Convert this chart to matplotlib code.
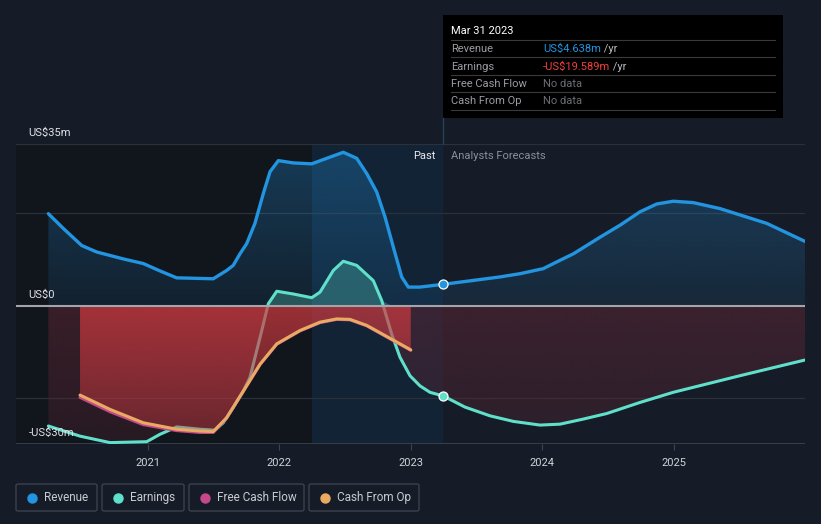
import numpy as np
import matplotlib
matplotlib.use("Agg")
import matplotlib.pyplot as plt
import matplotlib.colors as mcolors
from matplotlib.patches import Rectangle, FancyBboxPatch
from matplotlib.lines import Line2D

plt.rcParams['font.family'] = ['Roboto', 'DejaVu Sans']

# ---- data (US$ m, x in fractional years) ----
rev_x = [2020.246, 2020.360, 2020.500, 2020.614, 2020.816, 2020.968, 2021.095, 2021.222,
         2021.500, 2021.602, 2021.652, 2021.703, 2021.754, 2021.817, 2021.881, 2021.932,
         2021.995, 2022.109, 2022.249, 2022.363, 2022.489, 2022.591, 2022.667, 2022.743,
         2022.806, 2022.869, 2022.933, 2022.983, 2023.072, 2023.250,
         2023.681, 2023.833, 2024.010, 2024.137, 2024.238, 2024.441, 2024.593, 2024.745,
         2024.872, 2024.998, 2025.150, 2025.354, 2025.709, 2026.0]
rev_y = [19.9, 16.7, 13.0, 11.6, 10.1, 9.1, 7.5, 6.0,
         5.8, 7.6, 8.7, 11.2, 13.4, 17.8, 24.3, 29.0,
         31.4, 30.9, 30.7, 31.9, 33.2, 31.9, 28.6, 24.6,
         19.2, 12.7, 6.2, 4.0, 4.0, 4.6,
         6.2, 6.9, 8.0, 9.8, 11.2, 14.8, 17.4, 20.3,
         22.0, 22.6, 22.3, 21.0, 17.8, 13.9]

earn_x = [2020.246, 2020.487, 2020.715, 2020.994, 2021.095, 2021.222, 2021.399, 2021.513,
          2021.576, 2021.652, 2021.729, 2021.779, 2021.856, 2021.919, 2021.983, 2022.109,
          2022.249, 2022.312, 2022.413, 2022.489, 2022.591, 2022.717, 2022.781, 2022.857,
          2022.920, 2022.996, 2023.072, 2023.148, 2023.250,
          2023.414, 2023.605, 2023.782, 2023.985, 2024.137, 2024.314, 2024.492, 2024.745,
          2024.998, 2025.506, 2026.0]
earn_y = [-26.1, -28.3, -29.7, -29.5, -27.9, -26.3, -26.8, -27.0,
          -25.4, -22.1, -18.5, -15.6, -6.9, 0.4, 3.1, 2.5,
          1.7, 2.9, 7.6, 9.6, 8.7, 5.4, 1.1, -6.2,
          -11.2, -15.2, -17.4, -18.8, -19.6,
          -22.0, -23.9, -25.1, -25.9, -25.7, -24.6, -23.4, -21.0,
          -18.8, -15.2, -11.8]

cfo_x = [2020.487, 2020.715, 2020.968, 2021.222, 2021.399, 2021.500, 2021.602, 2021.729,
         2021.856, 2021.983, 2022.160, 2022.312, 2022.439, 2022.540, 2022.667, 2022.819,
         2023.002]
cfo_y = [-19.4, -22.5, -25.4, -26.8, -27.2, -27.3, -24.3, -18.5,
         -12.7, -8.3, -5.4, -3.6, -2.9, -3.0, -4.3, -6.7,
         -9.6]
fcf_y = [-19.9, -23.0, -25.8, -27.1, -27.5, -27.5, -24.4, -18.6,
         -12.8, -8.4, -5.5, -3.7, -3.0, -3.1, -4.4, -6.8,
         -9.7]

yticks = [35, 0, -30]
ytick_labels = ['US$35m', 'US$0', '-US$30m']
xticks = [2021, 2022, 2023, 2024, 2025]

C_REV = '#2394df'
C_EARN = '#5fe0cb'
C_FCF = '#c4488a'
C_CFO = '#e9ab62'
BG = '#161c27'


def grad_fill(ax, x, y_line, y_base, color, a_line, a_base, z):
    x = np.asarray(x)
    y_line = np.asarray(y_line)
    poly = ax.fill_between(x, y_line, y_base, color='none', lw=0)
    path = poly.get_paths()[0]
    lo = min(y_line.min(), y_base)
    hi = max(y_line.max(), y_base)
    rgb = mcolors.to_rgb(color)
    img = np.zeros((256, 1, 4))
    img[..., :3] = rgb
    if y_line.mean() >= y_base:
        img[:, 0, 3] = np.linspace(a_line, a_base, 256)
    else:
        img[:, 0, 3] = np.linspace(a_base, a_line, 256)
    im = ax.imshow(img, extent=[x.min(), x.max(), lo, hi], aspect='auto',
                   origin='upper', zorder=z, interpolation='bilinear')
    im.set_clip_path(path, transform=ax.transData)


fig = plt.figure(figsize=(8.21, 5.24), dpi=100)
fig.patch.set_facecolor(BG)
ax = fig.add_axes([16 / 821, 80 / 524, 789 / 821, 300 / 524])
ax.set_facecolor(BG)

# past / highlight backgrounds
ax.axvspan(2020.0, 2023.25, color='#11151c', zorder=0, lw=0)
ax.axvspan(2022.25, 2023.25, color='#14304a', alpha=0.55, zorder=0.5, lw=0)

for g in [35, 20, -20]:
    ax.axhline(g, color='#2b313b', lw=0.9, zorder=1)
ax.axhline(-30, color='#3e4450', lw=1.2, zorder=1)

# fills
grad_fill(ax, rev_x, rev_y, 0, C_REV, 0.30, 0.10, 2)
ex = np.array(earn_x)
ey = np.array(earn_y)
grad_fill(ax, ex, np.minimum(ey, 0), 0, '#5a2634', 0.30, 0.55, 2)
ax.fill_between(ex, np.maximum(ey, 0), 0, color=C_EARN, alpha=0.28, lw=0, zorder=2)

# lines
kw = dict(solid_capstyle='round', solid_joinstyle='round')
ax.plot(earn_x, earn_y, color=C_EARN, lw=2.2, zorder=3, **kw)
grad_fill(ax, cfo_x, cfo_y, 0, '#cf3a40', 0.40, 0.72, 4)
ax.plot(cfo_x, fcf_y, color=C_FCF, lw=2.2, zorder=5, **kw)
ax.plot(cfo_x, cfo_y, color=C_CFO, lw=2.2, zorder=5.5, **kw)
ax.plot(rev_x, rev_y, color=C_REV, lw=2.4, zorder=5, **kw)
ax.axhline(0, color='#a3a5ab', lw=1.5, zorder=4.5)

ax.plot([2023.25], [4.6], 'o', ms=6.5, color=C_REV, mec='white', mew=0.9, zorder=7)
ax.plot([2023.25], [-19.6], 'o', ms=6.5, color=C_EARN, mec='white', mew=0.9, zorder=7)

ax.set_xlim(2020.0, 2026.0)
ax.set_ylim(-30, 35)
for s in ax.spines.values():
    s.set_visible(False)
ax.set_yticks([])
ax.set_xticks(xticks)
ax.set_xticklabels([str(t) for t in xticks], color='#d0d3d8', fontsize=8)
ax.tick_params(axis='x', length=4, color='#3e4450', pad=6)

for v, lab in zip(yticks, ytick_labels):
    ax.annotate(lab, xy=(0, v), xycoords=('axes fraction', 'data'),
                xytext=(9, 4), textcoords='offset points', fontsize=8,
                color='#e0e2e6', va='bottom', ha='left', zorder=8)

ax.text(2023.25 - 0.06, 33.5, 'Past', color='#e8eaee', fontsize=8, ha='right', va='top', zorder=8)
ax.text(2023.25 + 0.06, 33.5, 'Analysts Forecasts', color='#8a8f99', fontsize=8,
        ha='left', va='top', zorder=8)

# vertical line from tooltip to chart
fig.add_artist(Line2D([443 / 821, 443 / 821], [1 - 118 / 524, 1 - 144 / 524],
                      color='#24405a', lw=1))

# tooltip
W, H = 821, 524
fig.add_artist(Rectangle((443 / W, 1 - 118 / H), 340 / W, 103 / H,
                         facecolor='black', edgecolor='none'))
fig.text(451 / W, 1 - 31 / H, 'Mar 31 2023', color='white', fontsize=8, va='center')
for sy in [40, 57, 75, 92, 110]:
    fig.add_artist(Line2D([451 / W, 775 / W], [1 - sy / H, 1 - sy / H], color='#3a3a3a', lw=0.8))
rows = [('Revenue', 'US$4.638m', C_REV, ' /yr'),
        ('Earnings', '-US$19.589m', '#f0403e', ' /yr'),
        ('Free Cash Flow', 'No data', '#6b6e74', ''),
        ('Cash From Op', 'No data', '#6b6e74', '')]
for i, (lab, val, col, unit) in enumerate(rows):
    yy = 1 - (49 + 17.5 * i) / H
    fig.text(451 / W, yy, lab, color='#9a9da3', fontsize=8, va='center')
    t = fig.text(543 / W, yy, val, color=col, fontsize=8, va='center')
    if unit:
        fig.canvas.draw()
        bb = t.get_window_extent()
        fig.text(bb.x1 / W, yy, unit, color='#b8bbc0', fontsize=8, va='center')

# legend boxes
legend_items = [('Revenue', C_REV, 16, 97), ('Earnings', C_EARN, 102, 184),
                ('Free Cash Flow', C_FCF, 189, 304), ('Cash From Op', C_CFO, 309, 419)]
for lab, col, x0, x1 in legend_items:
    fig.add_artist(FancyBboxPatch((x0 / W, 1 - 511 / H), (x1 - x0) / W, 27 / H,
                                  boxstyle='round,pad=0,rounding_size=0.003',
                                  facecolor='none', edgecolor='#3c424d', lw=1))
    fig.add_artist(Line2D([(x0 + 16) / W], [1 - 497.5 / H], marker='o', ms=6.5,
                          color=col, lw=0))
    fig.text((x0 + 28) / W, 1 - 497.5 / H, lab, color='#c8cbd0', fontsize=8.5, va='center')

fig.savefig('out.png', dpi=100, facecolor=BG)
